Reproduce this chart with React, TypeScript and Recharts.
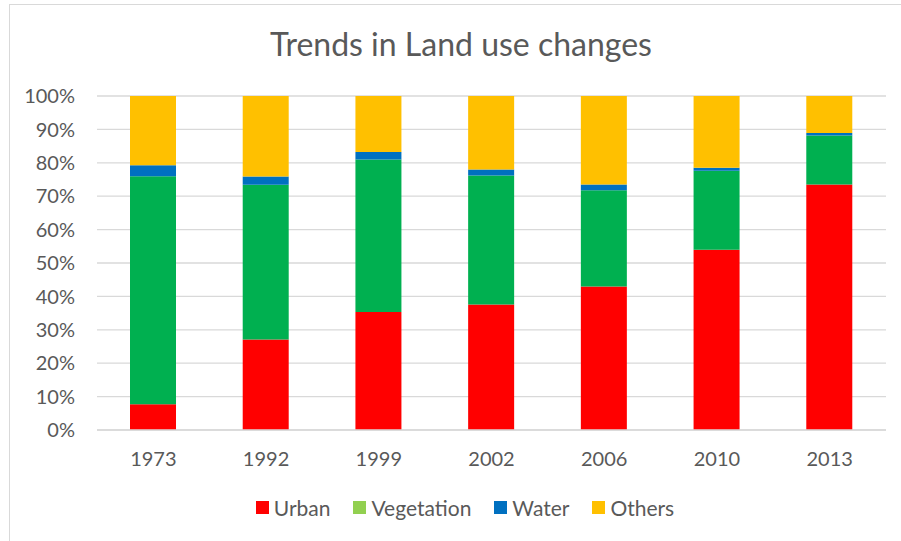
import React from 'react';
import { BarChart, Bar, XAxis, YAxis, CartesianGrid, Legend } from 'recharts';

const years = ['1973', '1992', '1999', '2002', '2006', '2010', '2013'];
const urban = [7.7, 27.1, 35.3, 37.6, 43.0, 54.0, 73.5];
const vegetation = [68.3, 46.3, 45.7, 38.6, 28.8, 23.6, 14.7];
const water = [3.3, 2.5, 2.2, 1.8, 1.7, 0.9, 0.7];
const others = [20.7, 24.1, 16.8, 22.0, 26.5, 21.5, 11.1];
const yTicks = [0, 10, 20, 30, 40, 50, 60, 70, 80, 90, 100];

const seriesNames = ['Urban', 'Vegetation', 'Water', 'Others'];
const barColors = ['#FF0000', '#00B050', '#0070C0', '#FFC000'];
const legendColors = ['#FF0000', '#92D050', '#0070C0', '#FFC000'];

const data = years.map((y, i) => ({
  year: y,
  Urban: urban[i],
  Vegetation: vegetation[i],
  Water: water[i],
  Others: others[i],
}));

const FONT = 'Lato, "Open Sans", sans-serif';
const TEXT = '#595959';

const renderLegend = () => (
  <div style={{ display: 'flex', justifyContent: 'center', fontFamily: FONT, fontSize: 21, color: TEXT, paddingLeft: 52 }}>
    {seriesNames.map((n, i) => (
      <div key={n} style={{ display: 'flex', alignItems: 'center', marginRight: 23 }}>
        <span style={{ display: 'inline-block', width: 13, height: 13, background: legendColors[i], marginRight: 5 }} />
        <span>{n}</span>
      </div>
    ))}
  </div>
);

export default function App() {
  return (
    <div style={{ position: 'absolute', left: 0, top: 0, width: 901, height: 541, background: '#fff' }}>
      <div style={{ position: 'absolute', left: 9, top: 4, width: 892, height: 1, background: '#d9d9d9' }} />
      <div style={{ position: 'absolute', left: 9, top: 4, width: 1, height: 537, background: '#d9d9d9' }} />
      <div style={{ position: 'absolute', left: 0, top: 24, width: 922, textAlign: 'center', fontFamily: FONT, fontSize: 32, color: TEXT, lineHeight: '40px' }}>
        Trends in Land use changes
      </div>
      <BarChart
        width={901}
        height={541}
        data={data}
        margin={{ top: 96, right: 15, bottom: 81, left: 0 }}
        barSize={46}
      >
        <CartesianGrid vertical={false} stroke="#d9d9d9" strokeWidth={1.3} />
        <XAxis
          dataKey="year"
          axisLine={{ stroke: '#d9d9d9', strokeWidth: 1.3 }}
          tickLine={false}
          tickSize={0}
          tickMargin={22}
          tick={{ fill: TEXT, fontSize: 20, fontFamily: FONT }}
        />
        <YAxis
          width={97}
          domain={[0, 100]}
          ticks={yTicks}
          tickFormatter={(v: number) => `${v}%`}
          axisLine={false}
          tickLine={false}
          tickSize={0}
          tickMargin={22}
          tick={{ fill: TEXT, fontSize: 20, fontFamily: FONT }}
        />
        {seriesNames.map((n, i) => (
          <Bar key={n} dataKey={n} stackId="a" fill={barColors[i]} isAnimationActive={false} />
        ))}
        <Legend
          layout="horizontal"
          verticalAlign="middle"
          align="center"
          content={renderLegend}
          wrapperStyle={{ position: 'absolute', top: 495, left: 0, width: 901 }}
        />
      </BarChart>
    </div>
  );
}
